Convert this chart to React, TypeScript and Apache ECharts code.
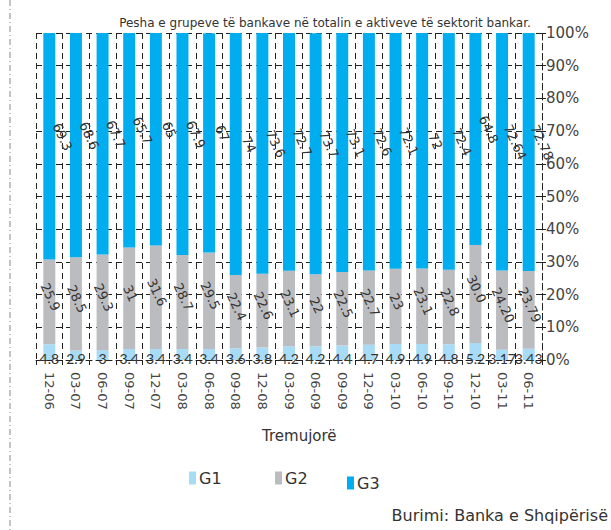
import React, { useEffect, useRef } from "react";
import * as echarts from "echarts";

const categories = ["12-06", "03-07", "06-07", "09-07", "12-07", "03-08", "06-08", "09-08", "12-08", "03-09", "06-09", "09-09", "12-09", "03-10", "06-10", "09-10", "12-10", "03-11", "06-11"];
const g1 = [4.8, 2.9, 3, 3.4, 3.4, 3.4, 3.4, 3.6, 3.8, 4.2, 4.2, 4.4, 4.7, 4.9, 4.9, 4.8, 5.2, 3.17, 3.43];
const g2 = [25.9, 28.5, 29.3, 31, 31.6, 28.7, 29.5, 22.4, 22.6, 23.1, 22, 22.5, 22.7, 23, 23.1, 22.8, 30.0, 24.2, 23.79];
const g3 = [69.3, 68.6, 67.7, 65.7, 65, 67.9, 67, 74, 73.6, 72.7, 73.7, 73.1, 72.6, 72.1, 72, 72.4, 64.8, 72.64, 72.78];
const g1Labels = ["4.8", "2.9", "3", "3.4", "3.4", "3.4", "3.4", "3.6", "3.8", "4.2", "4.2", "4.4", "4.7", "4.9", "4.9", "4.8", "5.2", "3.17", "3.43"];
const g2Labels = ["25.9", "28.5", "29.3", "31", "31.6", "28.7", "29.5", "22.4", "22.6", "23.1", "22", "22.5", "22.7", "23", "23.1", "22.8", "30.0", "24.20", "23.79"];
const g3Labels = ["69.3", "68.6", "67.7", "65.7", "65", "67.9", "67", "74", "73.6", "72.7", "73.7", "73.1", "72.6", "72.1", "72", "72.4", "64.8", "72.64", "72.78"];
const yTicks = [0, 10, 20, 30, 40, 50, 60, 70, 80, 90, 100];

const FONT = "DejaVu Sans";
const LFONT = "Lato";
const C1 = "#a8dcf6";
const C2 = "#bbbcc0";
const C3 = "#00adee";

export default function App() {
  const ref = useRef<HTMLDivElement>(null);
  useEffect(() => {
    const chart = echarts.init(ref.current!, null, { renderer: "svg" });
    const mk = (vals: number[], labels: string[]) =>
      vals.map((v, i) => ({ value: v, labelText: labels[i] }));
    chart.setOption({
      animation: false,
      backgroundColor: "#ffffff",
      textStyle: { fontFamily: FONT },
      title: {
        text: "Pesha e grupeve të bankave në totalin e aktiveve të sektorit bankar.",
        left: 320,
        textAlign: "center",
        top: 12,
        textStyle: { fontFamily: FONT, fontSize: 12, fontWeight: "normal", color: "#333" },
      },
      legend: [
        {
          data: ["G1"], left: 184, top: 465, icon: "rect", itemWidth: 7, itemHeight: 13, itemGap: 4,
          textStyle: { fontFamily: FONT, fontSize: 16, color: "#333", padding: [0, 0, 0, -2] },
        },
        {
          data: ["G2"], left: 270, top: 465, icon: "rect", itemWidth: 7, itemHeight: 13, itemGap: 4,
          textStyle: { fontFamily: FONT, fontSize: 16, color: "#333", padding: [0, 0, 0, -2] },
        },
        {
          data: ["G3"], left: 342, top: 470, icon: "rect", itemWidth: 7, itemHeight: 13, itemGap: 4,
          textStyle: { fontFamily: FONT, fontSize: 16, color: "#333", padding: [0, 0, 0, -2] },
        },
      ],
      grid: { left: 36, right: 69, top: 33, bottom: 170, containLabel: false },
      xAxis: {
        type: "category",
        data: categories,
        axisLine: { show: true, lineStyle: { color: "#222", type: [6, 4], width: 1 } },
        axisTick: { show: true, length: 5, lineStyle: { color: "#222" } },
        axisLabel: { rotate: -90, margin: 12, fontSize: 13, color: "#444", fontFamily: FONT, interval: 0 },
        splitLine: { show: true, interval: 0, lineStyle: { color: "#222", type: [6, 4], width: 1 } },
      },
      yAxis: {
        type: "value",
        position: "right",
        min: 0,
        max: 100,
        interval: 10,
        axisLine: { show: true, lineStyle: { color: "#222", type: [6, 4], width: 1 } },
        axisTick: { show: true, length: 4, lineStyle: { color: "#222" } },
        axisLabel: {
          fontSize: 15, color: "#444", fontFamily: FONT, margin: 4,
          formatter: (v: number) => (yTicks.includes(v) ? v + "%" : ""),
        },
        splitLine: { show: true, lineStyle: { color: "#222", type: [6, 4], width: 1 } },
      },
      series: [
        {
          name: "G1", type: "bar", stack: "s", barCategoryGap: "55%",
          itemStyle: { color: C1 },
          data: mk(g1, g1Labels),
          label: {
            show: true, position: "insideBottom", distance: -5,
            fontSize: 14, color: "#333", fontFamily: LFONT,
            formatter: (p: any) => p.data.labelText,
          },
        },
        {
          name: "G2", type: "bar", stack: "s",
          itemStyle: { color: C2 },
          data: mk(g2, g2Labels),
          label: {
            show: true, position: "inside", rotate: -65, offset: [-4, -3],
            fontSize: 13, color: "#333", fontFamily: FONT,
            formatter: (p: any) => p.data.labelText,
          },
        },
        {
          name: "G3", type: "bar", stack: "s",
          itemStyle: { color: C3 },
          data: mk(g3, g3Labels),
          label: {
            show: true, position: "inside", rotate: -65, offset: [-3, -16],
            fontSize: 13, color: "#333", fontFamily: FONT,
            formatter: (p: any) => p.data.labelText,
          },
        },
      ],
      graphic: [
        {
          type: "line",
          shape: { x1: 10, y1: 0, x2: 10, y2: 530 },
          style: { stroke: "#888", lineWidth: 1, lineDash: [6, 3, 1, 3] },
        },
        {
          type: "text",
          left: 262,
          top: 428,
          style: { text: "Tremujorë", fontFamily: FONT, fontSize: 15, fill: "#333" },
        },
        {
          type: "text",
          right: 3,
          top: 507,
          style: { text: "Burimi: Banka e Shqipërisë", fontFamily: FONT, fontSize: 16, fill: "#333" },
        },
      ],
    });
    return () => chart.dispose();
  }, []);
  return <div ref={ref} style={{ position: "absolute", left: 0, top: 0, width: 611, height: 530 }} />;
}
